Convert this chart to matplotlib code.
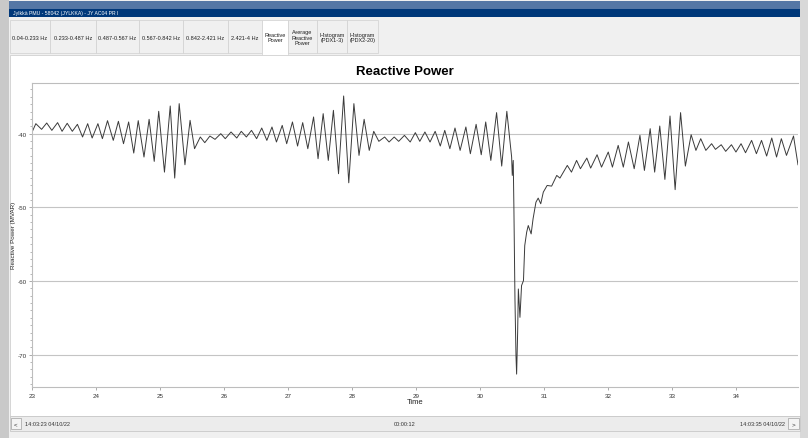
import matplotlib
matplotlib.use("Agg")
import matplotlib.pyplot as plt
from matplotlib.patches import Rectangle

plt.rcParams['font.family'] = ['Liberation Sans', 'DejaVu Sans']
plt.rcParams['axes.unicode_minus'] = False

# reactive power trace (time in s after 14:03:00, MVAR)
t_s = [23.00, 23.06, 23.15, 23.23, 23.31, 23.40, 23.47, 23.55, 23.63, 23.71,
       23.79, 23.87, 23.94, 24.03, 24.10, 24.18, 24.27, 24.35, 24.43, 24.51,
       24.59, 24.66, 24.75, 24.83, 24.91, 24.98, 25.07, 25.16, 25.23, 25.30,
       25.39, 25.47, 25.54, 25.63, 25.70, 25.78, 25.86, 25.95, 26.02,
       26.11, 26.20, 26.27, 26.35, 26.43, 26.51, 26.59, 26.67, 26.75, 26.82,
       26.91, 26.98, 27.07, 27.15, 27.23, 27.31, 27.40, 27.47, 27.55, 27.63,
       27.71, 27.79, 27.87, 27.95, 28.03, 28.11, 28.19, 28.27, 28.34, 28.42,
       28.51, 28.58, 28.66, 28.73, 28.82, 28.91, 28.99, 29.06,
       29.14, 29.22, 29.30, 29.38, 29.45, 29.53, 29.61, 29.69, 29.78, 29.85,
       29.94, 30.02, 30.09, 30.17, 30.26, 30.34, 30.42,
       30.47, 30.495, 30.505, 30.52, 30.53, 30.547, 30.563, 30.573, 30.589, 30.60,
       30.625, 30.65, 30.68, 30.70, 30.73, 30.755, 30.80, 30.83, 30.875, 30.91,
       30.95, 30.99, 31.05, 31.12, 31.20, 31.25, 31.365, 31.43, 31.51, 31.57,
       31.67, 31.73, 31.83, 31.90, 32.005, 32.07, 32.16, 32.24, 32.32, 32.41,
       32.50, 32.57, 32.66, 32.73,
       32.81, 32.89, 32.97, 33.05, 33.135, 33.21, 33.30, 33.375, 33.45, 33.53,
       33.62, 33.68, 33.77, 33.84, 33.93, 34.00, 34.08, 34.15, 34.245, 34.32,
       34.40, 34.48, 34.56, 34.635, 34.71, 34.79, 34.90, 34.97]
q_mvar = [-39.80, -38.64, -39.41, -38.55, -39.55, -38.50, -39.68, -38.59, -39.68, -38.73,
          -40.45, -38.64, -40.59, -38.64, -40.68, -38.23, -40.91, -38.32, -41.36, -38.41,
          -42.63, -38.23, -43.17, -38.05, -43.76, -36.96, -45.22, -36.24, -46.03, -35.92,
          -44.22, -38.19, -42.04, -40.45, -41.22, -40.32, -40.77, -40.00, -40.68,
          -39.77, -40.59, -39.68, -40.45, -39.55, -40.68, -39.23, -40.91, -39.09, -41.13,
          -38.87, -41.36, -38.41, -41.68, -38.50, -42.04, -37.73, -43.40, -37.28, -43.63,
          -36.83, -45.44, -34.88, -46.67, -35.92, -42.95, -38.05, -42.27, -39.68, -41.04,
          -40.45, -41.13, -40.45, -41.04, -40.23, -41.13, -39.86, -41.04,
          -39.77, -41.13, -39.68, -41.68, -39.55, -42.04, -39.23, -42.27, -39.09, -42.72,
          -38.73, -42.86, -38.41, -43.63, -37.14, -44.40, -36.96,
          -41.13, -43.17, -45.67, -43.63, -49.75, -62.45, -70.16, -72.65, -66.98, -61.09,
          -64.94, -60.63, -59.95, -55.19, -53.38, -52.47, -53.61, -51.56, -49.30, -48.75,
          -49.52, -47.94, -47.03, -47.12, -45.67, -46.03, -44.31, -45.22, -43.63, -44.76,
          -43.31, -44.67, -42.86, -44.54, -42.49, -44.54, -41.59, -44.54, -41.13, -44.76,
          -40.23, -44.99, -39.32, -45.22,
          -38.96, -46.21, -37.60, -47.60, -37.14, -44.40, -40.14, -42.27, -40.68, -42.27,
          -41.36, -42.13, -41.50, -42.40, -41.50, -42.49, -41.36, -42.59, -40.91, -42.72,
          -40.91, -43.04, -40.59, -43.17, -40.68, -42.95, -40.32, -44.22]

x_ticks = list(range(23, 35))
y_ticks = [-70, -60, -50, -40]

tab_labels = ['0.04-0.233 Hz', '0.233-0.487 Hz', '0.487-0.567 Hz', '0.567-0.842 Hz',
              '0.842-2.421 Hz', '2.421-4 Hz', 'Reactive\nPower',
              'Average\nReactive\nPower', 'Histogram\n(PDX1-3)', 'Histogram\n(PDX2-20)']
tab_edges = [10, 50, 96, 139, 183, 228, 262, 288, 317, 347, 378]
start_label = '14:03:23 04/10/22'
span_label = '00:00:12'
end_label = '14:03:35 04/10/22'
window_title = 'Jylkkä PMU - 58042 (JYLKKA) - JY AC04 PR I'

W, H = 808, 439
fig = plt.figure(figsize=(W / 100, H / 100), dpi=100)
fig.patch.set_facecolor('#f0f0f0')


def box(x, y, w, h, fc, ec='none', lw=0.6, z=1):
    fig.add_artist(Rectangle((x / W, 1 - (y + h) / H), w / W, h / H,
                             transform=fig.transFigure, fc=fc, ec=ec, lw=lw, zorder=z))


def txt(x, y, s, **kw):
    fig.text(x / W, 1 - y / H, s, **kw)


# window chrome
box(0, 0, W, H, '#f0f0f0', z=0)
box(0, 0, 9, H, '#c9c9c9')
box(800, 0, 8, H, '#d8d8d8')
box(9, 2, 791, 8, '#5577a5')
box(9, 10, 791, 8, '#00387a')
txt(13, 13, window_title, color='white', fontsize=3.7, va='center')
for i, lab in enumerate(tab_labels):
    x0, x1 = tab_edges[i], tab_edges[i + 1]
    sel = lab == 'Reactive\nPower'
    box(x0, 21, x1 - x0, 35 if sel else 33, 'white' if sel else '#f0f0f0',
        ec='#d0d0d0', lw=0.5, z=2)
    txt((x0 + x1) / 2, 38, lab, fontsize=4.0, ha='center', va='center',
        color='#202020', linespacing=1.15, zorder=3)
box(10, 56, 790, 361, 'white', ec='#d0d0d0', lw=0.6, z=1)
box(10, 417, 790, 15, '#ececec', ec='#c8c8c8', lw=0.6, z=1)
box(11, 419, 10, 11, '#f4f4f4', ec='#a0a0a0', lw=0.5, z=2)
box(788, 419, 11, 11, '#f4f4f4', ec='#a0a0a0', lw=0.5, z=2)
txt(16, 425, '<', fontsize=4.5, ha='center', va='center', color='#333333', zorder=3)
txt(793.5, 425, '>', fontsize=4.5, ha='center', va='center', color='#333333', zorder=3)
txt(25, 425, start_label, fontsize=4, va='center', color='#333333', zorder=3)
txt(405, 425, span_label, fontsize=4, ha='center', va='center', color='#333333', zorder=3)
txt(785, 425, end_label, fontsize=4, ha='right', va='center', color='#333333', zorder=3)

txt(405, 72, 'Reactive Power', fontsize=9.5, fontweight='bold', ha='center',
    va='center', color='black', zorder=3)

# plot area
ax = fig.add_axes([32 / W, 1 - 388 / H, 766 / W, 304.5 / H])
ax.set_zorder(4)
ax.set_facecolor('white')
ax.plot(t_s, q_mvar, color='#3a3a3a', lw=0.7)
ax.set_xlim(23, 34.97)
ax.set_ylim(-74.4, -33.05)
ax.set_xticks(x_ticks)
ax.set_yticks(y_ticks)
ax.set_yticks(range(-74, -33), minor=True)
ax.grid(axis='y', which='major', color='#c4c4c4', lw=0.8)
for side in ['left', 'bottom', 'top']:
    ax.spines[side].set_color('#bdbdbd')
    ax.spines[side].set_linewidth(0.8)
ax.spines['right'].set_visible(False)
ax.tick_params(axis='both', which='major', labelsize=4.5, length=2.5, width=0.5,
               colors='#8a8a8a', labelcolor='#333333', pad=1.5)
ax.tick_params(axis='y', which='minor', length=1.5, width=0.5, colors='#9a9a9a')
ax.set_xlabel('Time', fontsize=5.5, labelpad=0, color='#222222')
ax.set_ylabel('Reactive Power (MVAR)', fontsize=4.5, labelpad=1, color='#222222')

fig.savefig('out.png', dpi=100)
